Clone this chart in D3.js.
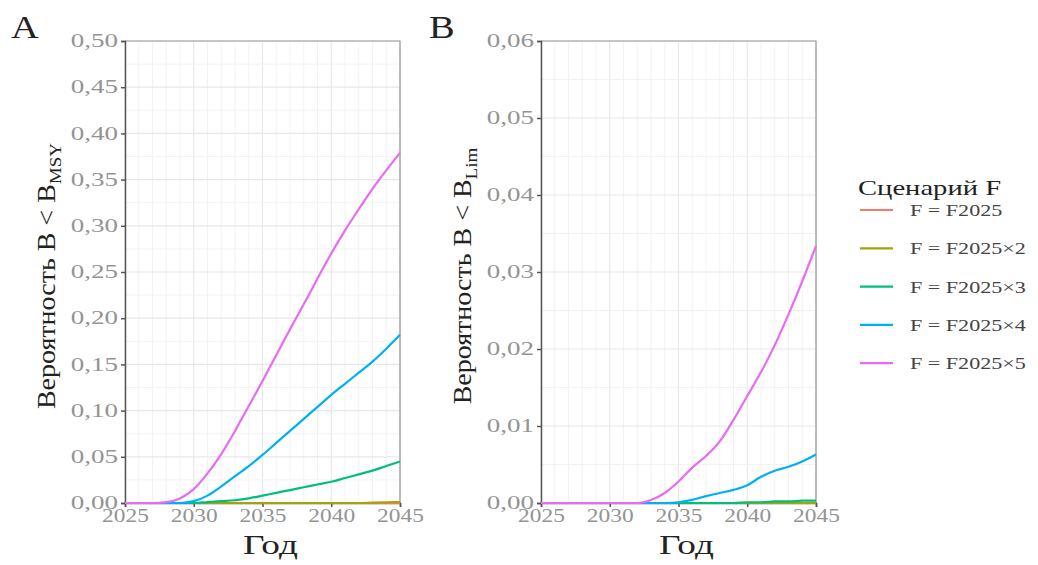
<!DOCTYPE html>
<html><head><meta charset="utf-8">
<script src="https://cdn.jsdelivr.net/npm/d3@7"></script>
<style>body{margin:0;background:#fff}svg{display:block}text{font-family:"Liberation Serif","DejaVu Serif",serif}</style>
</head><body><svg id="c" width="1038" height="565"></svg>
<script>
const years = d3.range(2025, 2046);
const scenarios = ["F = F2025","F = F2025×2","F = F2025×3","F = F2025×4","F = F2025×5"];
const colors = ["#F8766D","#A3A500","#00BF7D","#00B0F6","#E76BF3"];
// Panel A: P(B < B_MSY)
const a1 = [0,0,0,0,0,0,0,0,0,0,0,0,0,0,0,0,0,0,0,0,0];
const a2 = [0,0,0,0,0,0,0,0,0,0,0,0,0,0,0,0,0,0,0.0005,0.0008,0.001];
const a3 = [0,0,0,0,0,0,0.001,0.002,0.003,0.005,0.008,0.011,0.014,0.017,0.020,0.023,0.027,0.031,0.035,0.040,0.045];
const a4 = [0,0,0,0,0,0.002,0.008,0.018,0.029,0.040,0.052,0.065,0.078,0.091,0.104,0.117,0.129,0.141,0.153,0.167,0.182];
const a5 = [0,0,0,0.001,0.005,0.015,0.032,0.053,0.078,0.105,0.132,0.160,0.188,0.215,0.243,0.270,0.295,0.318,0.340,0.360,0.379];
// Panel B: P(B < B_Lim)
const b1 = [0,0,0,0,0,0,0,0,0,0,0,0,0,0,0,0,0,0,0,0,0];
const b2 = [0,0,0,0,0,0,0,0,0,0,0,0,0,0,0,0,0,0,0,0,0];
const b3 = [0,0,0,0,0,0,0,0,0,0,0,0,0,0,0,0.0001,0.0001,0.0002,0.0002,0.0003,0.0003];
const b4 = [0,0,0,0,0,0,0,0,0,0,0.0001,0.0004,0.0009,0.0013,0.0017,0.0023,0.0034,0.0042,0.0047,0.0054,0.0063];
const b5 = [0,0,0,0,0,0,0,0,0.0004,0.0013,0.0028,0.0046,0.0061,0.0080,0.0108,0.0139,0.0170,0.0205,0.0245,0.0288,0.0334];
const xTicks = [2025,2030,2035,2040,2045];
const yTicksA = [0,0.05,0.10,0.15,0.20,0.25,0.30,0.35,0.40,0.45,0.50];
const yTicksB = [0,0.01,0.02,0.03,0.04,0.05,0.06];

const svg = d3.select("#c");
const fmt = (d, n) => d.toFixed(n).replace(".", ",");
// widen text along its direction (reference glyphs are broad)
function stretch(sel, k){
  sel.each(function(){
    const w = this.getComputedTextLength();
    d3.select(this).attr("textLength", w*k).attr("lengthAdjust","spacingAndGlyphs");
  });
}

function panel(cfg){
  const x = d3.scaleLinear().domain([2025,2045]).range([cfg.x0, cfg.x1]);
  const y = d3.scaleLinear().domain([0, cfg.ymax]).range([cfg.y0, cfg.y1]);
  const g = svg.append("g");
  g.selectAll(".vg").data(d3.range(2025,2046)).join("line")
    .attr("x1", d=>x(d)).attr("x2", d=>x(d)).attr("y1", cfg.y0).attr("y2", cfg.y1)
    .attr("stroke", d=> d%5===0 ? "#e8e8e8" : "#f2f2f2").attr("stroke-width", d=> d%5===0?1.2:1);
  const minor = d3.range(0, cfg.ymax + 1e-9, cfg.ystep/2);
  g.selectAll(".hg").data(minor).join("line")
    .attr("x1", cfg.x0).attr("x2", cfg.x1).attr("y1", d=>y(d)).attr("y2", d=>y(d))
    .attr("stroke", (d,i)=> i%2===0 ? "#e8e8e8" : "#f2f2f2").attr("stroke-width", (d,i)=> i%2===0?1.2:1);
  g.append("path").attr("d", `M${cfg.x0},${cfg.y1}H${cfg.x1}V${cfg.y0}`).attr("fill","none").attr("stroke","#999").attr("stroke-width",1.2);
  const ax = g.append("g").attr("transform", `translate(0,${cfg.y0})`)
    .call(d3.axisBottom(x).tickValues(xTicks).tickFormat(d3.format("d")).tickSize(4));
  const ay = g.append("g").attr("transform", `translate(${cfg.x0},0)`)
    .call(d3.axisLeft(y).tickValues(cfg.yticks).tickFormat(d=>fmt(d,2)).tickSize(4));
  [ax, ay].forEach(a=>{
    a.select(".domain").attr("stroke","#555").attr("stroke-width",1.5);
    a.selectAll(".tick line").attr("stroke","#555").attr("stroke-width",1.5);
    a.selectAll("text").attr("fill","#939393").style("font-size","18px").style("font-family",'"Liberation Serif",serif');
  });
  ax.selectAll("text").attr("dy","0.8em").attr("y",5);
  ay.selectAll("text").attr("x",-7);
  stretch(ax.selectAll("text"), 1.3);
  stretch(ay.selectAll("text"), 1.5);
  const line = d3.line().x((d,i)=>x(years[i])).y(d=>y(d)).curve(d3.curveMonotoneX);
  cfg.series.forEach((s,i)=>{
    g.append("path").datum(s).attr("d", line).attr("fill","none")
      .attr("stroke", colors[i]).attr("stroke-width", 2.2);
  });
  const xt = g.append("text").attr("x", (cfg.x0+cfg.x1)/2 + 8).attr("y", 554).attr("text-anchor","middle")
    .attr("fill","#222").style("font-size","27px").text("Год");
  stretch(xt, 1.38);
  const t = g.append("text").attr("transform", `translate(${cfg.tx},${(cfg.y0+cfg.y1)/2 + 4}) rotate(-90)`)
    .attr("text-anchor","middle").attr("fill","#222").style("font-size","25px");
  t.append("tspan").text("Вероятность B < B");
  t.append("tspan").attr("dy", 6).style("font-size","17px").text(cfg.sub);
  stretch(t, 1.12);
  const lab = g.append("text").attr("x", cfg.lx).attr("y", 38).attr("fill","#222").style("font-size","32px").text(cfg.label);
  stretch(lab, 1.2);
}

panel({x0:125, x1:400, y0:503, y1:41, ymax:0.5, ystep:0.05, yticks:yTicksA, series:[a1,a2,a3,a4,a5], tx:55, sub:"MSY", label:"A", lx:11});
panel({x0:541, x1:816, y0:503, y1:41, ymax:0.06, ystep:0.01, yticks:yTicksB, series:[b1,b2,b3,b4,b5], tx:471, sub:"Lim", label:"B", lx:429});

const lg = svg.append("g");
const lt = lg.append("text").attr("x", 858).attr("y", 195).attr("fill","#222").style("font-size","22px").text("Сценарий F");
stretch(lt, 1.3);
scenarios.forEach((s,i)=>{
  const yy = 210 + i*38.3;
  lg.append("line").attr("x1",860).attr("x2",893).attr("y1",yy).attr("y2",yy).attr("stroke",colors[i]).attr("stroke-width",2.2);
  const tx = lg.append("text").attr("x",910).attr("y",yy).attr("dy","0.35em").attr("fill","#444").style("font-size","17px").text(s);
  stretch(tx, 1.3);
});
</script></body></html>
